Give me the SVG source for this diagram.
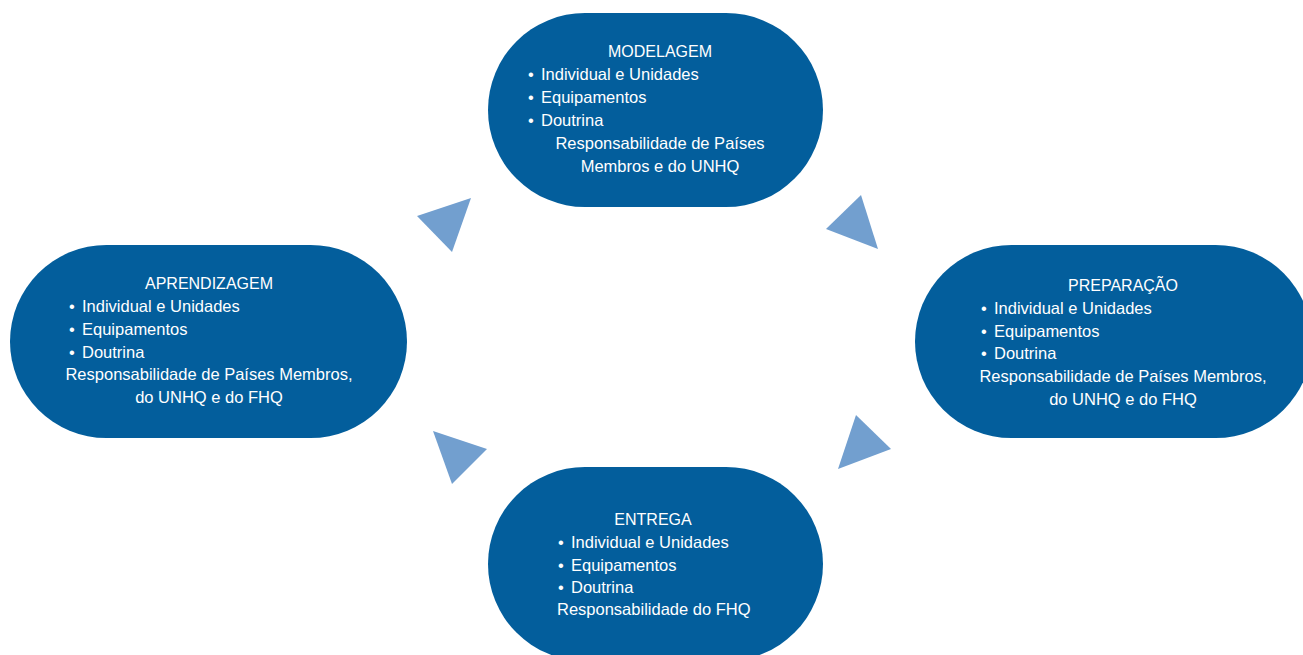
<svg xmlns="http://www.w3.org/2000/svg" width="1303" height="655" viewBox="0 0 1303 655">
<style>
.node{fill:#035E9C}
.tri{fill:#729FCF}
text{font-family:"Liberation Sans",Arial,sans-serif;fill:#ffffff}
.t{font-size:16px}
.b{font-size:16.5px}
.m{text-anchor:middle}
</style>
<rect width="1303" height="655" fill="#ffffff"/>
<g id="connectors">
<polygon class="tri" points="417,216 471,198 452,252"/>
<polygon class="tri" points="861,195 826,229 878,249"/>
<polygon class="tri" points="433,431 487,449 452,484"/>
<polygon class="tri" points="856,415 891,449 838,469"/>
</g>
<g id="modelagem">
<rect class="node" x="488" y="13" width="335" height="194" rx="97" ry="97"/>
<text class="t m" x="660" y="57">MODELAGEM</text>
<text class="b" x="528" y="80">•<tspan x="541">Individual e Unidades</tspan></text>
<text class="b" x="528" y="103">•<tspan x="541">Equipamentos</tspan></text>
<text class="b" x="528" y="126">•<tspan x="541">Doutrina</tspan></text>
<text class="b m" x="660" y="149">Responsabilidade de Países</text>
<text class="b m" x="660" y="172">Membros e do UNHQ</text>
</g>
<g id="aprendizagem">
<rect class="node" x="10" y="245" width="397" height="193" rx="96.5" ry="96.5"/>
<text class="t m" x="209" y="289">APRENDIZAGEM</text>
<text class="b" x="69" y="312">•<tspan x="82">Individual e Unidades</tspan></text>
<text class="b" x="69" y="335">•<tspan x="82">Equipamentos</tspan></text>
<text class="b" x="69" y="358">•<tspan x="82">Doutrina</tspan></text>
<text class="b m" x="209" y="380">Responsabilidade de Países Membros,</text>
<text class="b m" x="209" y="403">do UNHQ e do FHQ</text>
</g>
<g id="preparacao">
<rect class="node" x="915" y="245" width="397" height="193" rx="96.5" ry="96.5"/>
<text class="t m" x="1123" y="291">PREPARAÇÃO</text>
<text class="b" x="981" y="314">•<tspan x="994">Individual e Unidades</tspan></text>
<text class="b" x="981" y="337">•<tspan x="994">Equipamentos</tspan></text>
<text class="b" x="981" y="359">•<tspan x="994">Doutrina</tspan></text>
<text class="b m" x="1123" y="382">Responsabilidade de Países Membros,</text>
<text class="b m" x="1123" y="405">do UNHQ e do FHQ</text>
</g>
<g id="entrega">
<rect class="node" x="488" y="467" width="335" height="194" rx="97" ry="97"/>
<text class="t m" x="653" y="525">ENTREGA</text>
<text class="b" x="558" y="548">•<tspan x="571">Individual e Unidades</tspan></text>
<text class="b" x="558" y="571">•<tspan x="571">Equipamentos</tspan></text>
<text class="b" x="558" y="593">•<tspan x="571">Doutrina</tspan></text>
<text class="b" x="557" y="615">Responsabilidade do FHQ</text>
</g>
</svg>
